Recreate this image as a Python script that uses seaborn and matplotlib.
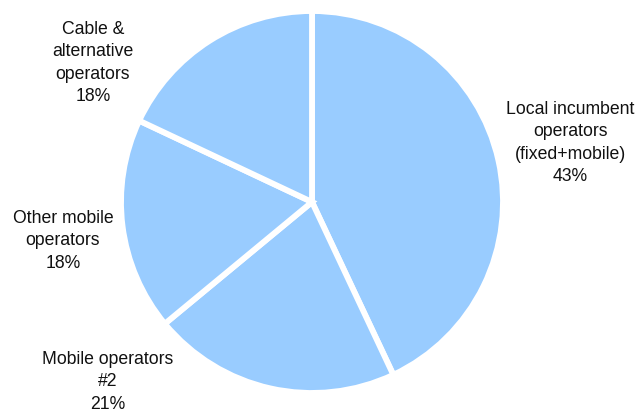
import matplotlib
matplotlib.use("Agg")
import matplotlib.pyplot as plt
import seaborn as sns

# Market share by operator group
categories = [
    "Local incumbent\noperators\n(fixed+mobile)",
    "Mobile operators\n#2",
    "Other mobile\noperators",
    "Cable &\nalternative\noperators",
]
shares = [43, 21, 18, 18]

# Label anchor points (figure pixels, origin top-left)
label_pos = [(570, 143), (108, 382), (63, 241), (93, 63)]

sns.set_theme(style="white")
plt.rcParams["font.family"] = ["Liberation Sans", "DejaVu Sans"]

W, H = 643, 414
fig = plt.figure(figsize=(W / 100, H / 100), dpi=100)
ax = fig.add_axes([0, 0, 1, 1])

ax.pie(
    shares,
    startangle=90,
    counterclock=False,
    colors=["#99CCFF"] * len(shares),
    center=(312, H - 203),
    radius=191,
    wedgeprops=dict(edgecolor="white", linewidth=4.2),
    frame=True,
)
ax.set_xlim(0, W)
ax.set_ylim(0, H)
ax.set_aspect("equal")
ax.axis("off")

for name, val, (x, y) in zip(categories, shares, label_pos):
    ax.text(x, H - y, f"{name}\n{val}%", ha="center", va="center",
            fontsize=12.7, color="#111111", linespacing=1.43)

fig.savefig("out.png", dpi=100, facecolor="white")
